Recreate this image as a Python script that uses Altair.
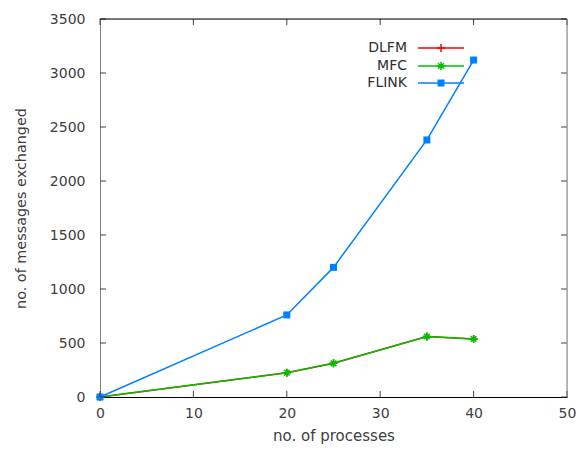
import altair as alt
import pandas as pd

processes = [0, 20, 25, 35, 40]
dlfm = [0, 225, 312, 560, 538]
mfc = [0, 225, 312, 560, 538]
flink = [0, 760, 1200, 2380, 3120]
series_names = ["DLFM", "MFC", "FLINK"]
series_colors = ["#ff0000", "#00c000", "#0080ff"]
x_ticks = [0, 10, 20, 30, 40, 50]
y_ticks = [0, 500, 1000, 1500, 2000, 2500, 3000, 3500]

rows = []
for name, vals in zip(series_names, [dlfm, mfc, flink]):
    for p, v in zip(processes, vals):
        rows.append({"series": name, "procs": p, "msgs": v})
df = pd.DataFrame(rows)

W, H = 467, 378
FONT = "DejaVu Sans"
xs = alt.Scale(domain=[0, 50], nice=False)
ys = alt.Scale(domain=[0, 3500], nice=False)

base_x = alt.X("procs:Q", scale=xs, axis=alt.Axis(
    title="no. of processes", values=x_ticks, tickSize=0, labelPadding=9,
    labelFont=FONT, labelFontSize=14, labelColor="#404040", titleFont=FONT,
    titleFontSize=15, titleFontWeight="normal", titleColor="#404040",
    titlePadding=8, domainColor="#000000", grid=False, labelFlush=False,
    format="d"))
base_y = alt.Y("msgs:Q", scale=ys, axis=alt.Axis(
    title="no. of messages exchanged", values=y_ticks, tickSize=0, labelPadding=15,
    labelFont=FONT, labelFontSize=14, labelColor="#404040", titleFont=FONT,
    titleFontSize=14.4, titleFontWeight="normal", titleColor="#404040",
    titlePadding=21, domainColor="#808080", grid=False, labelFlush=False,
    format="d"))

plus_path = "M-1,0L1,0M0,-1L0,1"
star_path = "M-1,0L1,0M0,-1L0,1M-0.7,-0.7L0.7,0.7M-0.7,0.7L0.7,-0.7"


def marker(ch, name, color):
    if name == "FLINK":
        return ch.mark_point(shape="square", filled=True, fill=color, stroke=color,
                             size=49, opacity=1, strokeWidth=0)
    if name == "MFC":
        return ch.mark_point(shape=star_path, filled=False, stroke=color, size=64,
                             strokeWidth=1.5, opacity=1)
    return ch.mark_point(shape=plus_path, filled=False, stroke=color, size=64,
                         strokeWidth=1.5, opacity=1)


layers = []
for name, color in zip(series_names, series_colors):
    sub = alt.Chart(df).transform_filter(alt.datum.series == name)
    layers.append(sub.mark_line(color=color, strokeWidth=1.5).encode(x=base_x, y=base_y))
    layers.append(marker(sub, name, color).encode(x=base_x, y=base_y))

# inward ticks (left & right, bottom & top)
ytdf = pd.DataFrame({"msgs": y_ticks})
xtdf = pd.DataFrame({"procs": x_ticks})
yt_left = alt.Chart(ytdf).mark_rule(color="#404040").encode(
    y=alt.Y("msgs:Q", scale=ys), x=alt.value(0), x2=alt.value(6))
yt_right = alt.Chart(ytdf).mark_rule(color="#404040").encode(
    y=alt.Y("msgs:Q", scale=ys), x=alt.value(W - 6), x2=alt.value(W))
xt_bot = alt.Chart(xtdf).mark_rule(color="#404040").encode(
    x=alt.X("procs:Q", scale=xs), y=alt.value(H - 6), y2=alt.value(H))
xt_top = alt.Chart(xtdf).mark_rule(color="#404040").encode(
    x=alt.X("procs:Q", scale=xs), y=alt.value(0), y2=alt.value(6))
one = pd.DataFrame({"a": [0]})
top_border = alt.Chart(one).mark_rule(color="#000000").encode(
    x=alt.value(0), x2=alt.value(W), y=alt.value(0))
right_border = alt.Chart(one).mark_rule(color="#808080").encode(
    x=alt.value(W), y=alt.value(0), y2=alt.value(H))

# manual legend (gnuplot style: label left, sample right)
leg_rows = [29, 47, 64]
leg_layers = []
for name, color, ry in zip(series_names, series_colors, leg_rows):
    ld = alt.Chart(pd.DataFrame({"series": [name]}))
    leg_layers.append(ld.mark_rule(strokeWidth=1.5, color=color).encode(
        x=alt.value(318), x2=alt.value(364), y=alt.value(ry)))
    leg_layers.append(ld.mark_text(align="right", baseline="middle", font=FONT,
                                   fontSize=14, color="#303030").encode(
        x=alt.value(307), y=alt.value(ry), text="series:N"))
    leg_layers.append(marker(ld, name, color).encode(x=alt.value(341), y=alt.value(ry)))

chart = alt.layer(
    *layers, yt_left, yt_right, xt_bot, xt_top, top_border, right_border, *leg_layers
).properties(
    width=W, height=H,
    autosize=alt.AutoSizeParams(type="none"),
    padding={"left": 100, "top": 19, "right": 9, "bottom": 55},
).configure_view(stroke=None).configure(background="white")

chart.save("out.html", embed_options={"renderer": "svg", "actions": False})
